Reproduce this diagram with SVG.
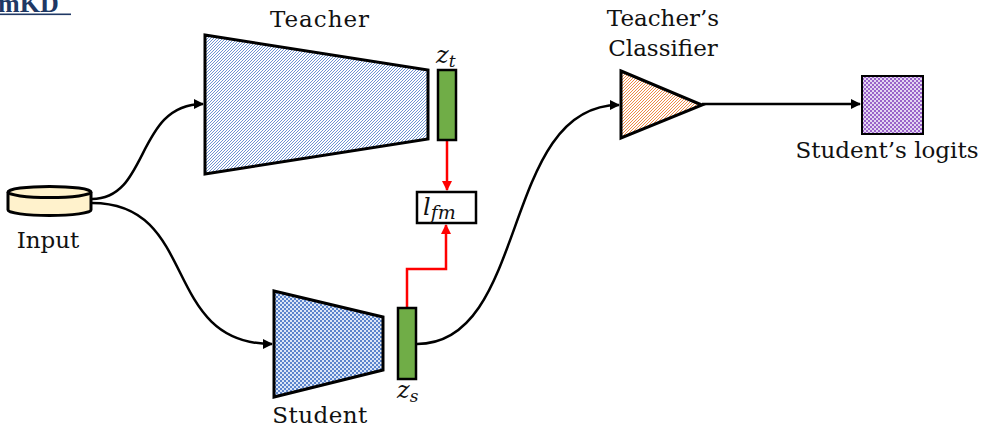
<svg xmlns="http://www.w3.org/2000/svg" width="986" height="431" viewBox="0 0 986 431">
<style>
.lbl{font-family:"DejaVu Serif","Liberation Serif",serif;font-size:23px;fill:#111}
.math{font-family:"DejaVu Serif","Liberation Serif",serif;font-style:italic;font-size:24px;fill:#111}
.sub{font-size:17px}
.blk{stroke:#000;stroke-width:3;stroke-linejoin:miter}
.conn{fill:none;stroke:#000;stroke-width:2.5}
.red{fill:none;stroke:#FF0000;stroke-width:2.5}
</style>
<defs>
<pattern id="hatchBlue" width="3" height="3" patternUnits="userSpaceOnUse">
<rect width="3" height="3" fill="#fff"/>
<path d="M-1,1 l2,-2 M0,3 l3,-3 M2,4 l2,-2" stroke="#4A78C8" stroke-width="0.8"/>
</pattern>
<pattern id="hatchOrange" width="3" height="3" patternUnits="userSpaceOnUse">
<rect width="3" height="3" fill="#fff"/>
<path d="M-1,1 l2,-2 M0,3 l3,-3 M2,4 l2,-2" stroke="#ED7D31" stroke-width="0.9"/>
</pattern>
<pattern id="checkBlue" width="4" height="4" patternUnits="userSpaceOnUse">
<rect width="4" height="4" fill="#DCE6F7"/>
<rect width="2" height="2" fill="#5B84CC"/>
<rect x="2" y="2" width="2" height="2" fill="#5B84CC"/>
</pattern>
<pattern id="checkPurple" width="4" height="4" patternUnits="userSpaceOnUse">
<rect width="4" height="4" fill="#E4D6F2"/>
<rect width="2" height="2" fill="#9A63C9"/>
<rect x="2" y="2" width="2" height="2" fill="#9A63C9"/>
</pattern>
<marker id="arrK" viewBox="0 0 10 10" refX="9" refY="5" markerWidth="4" markerHeight="4" orient="auto" markerUnits="strokeWidth">
<path d="M0,0 L10,5 L0,10 z" fill="#000"/>
</marker>
<marker id="arrR" viewBox="0 0 10 10" refX="9" refY="5" markerWidth="4" markerHeight="4" orient="auto" markerUnits="strokeWidth">
<path d="M0,0 L10,5 L0,10 z" fill="#FF0000"/>
</marker>
</defs>
<rect width="986" height="431" fill="#fff"/>

<g id="title">
<text x="-2" y="12" font-family="Liberation Serif,serif" font-weight="bold" font-size="26" fill="#1F3864">mKD</text>
<rect x="0" y="13.5" width="71" height="1.6" fill="#1F3864"/>
</g>

<g id="connectors">
<path class="conn" d="M92,199 C150,199 135,104 203,104" marker-end="url(#arrK)"/>
<path class="conn" d="M92,203 C200,203 160,344 272,344" marker-end="url(#arrK)"/>
<path class="conn" d="M417,344 C530,344 500,105 619,105" marker-end="url(#arrK)"/>
<path class="conn" d="M702,104 L860,104" marker-end="url(#arrK)"/>
<path class="red" d="M447,140 L447,190" marker-end="url(#arrR)"/>
<path class="red" d="M407,308 L407,269 L446,269 L446,225" marker-end="url(#arrR)"/>
</g>

<g id="input">
<path class="blk" fill="#FFF2CC" d="M8,192 L8,210 A41.5,5.5 0 0 0 91,210 L91,192"/>
<ellipse class="blk" cx="49.5" cy="192" rx="41.5" ry="5.5" fill="#FFF2CC"/>
<text class="lbl" x="48" y="248" text-anchor="middle">Input</text>
</g>

<g id="teacher">
<polygon class="blk" points="205,35 428,70 428,139 205,174" fill="url(#hatchBlue)"/>
<text class="lbl" x="320" y="27" text-anchor="middle" letter-spacing="1">Teacher</text>
</g>

<g id="zt">
<rect x="438" y="70" width="18" height="70" fill="#70AD47" stroke="#000" stroke-width="2.5"/>
<text class="math" x="436" y="63">z<tspan class="sub" dy="4">t</tspan></text>
</g>

<g id="lfm">
<rect x="417" y="192" width="59" height="31" fill="#fff" stroke="#000" stroke-width="2.5"/>
<text class="math" x="423" y="215" font-size="26">l<tspan font-size="19" dy="4">fm</tspan></text>
</g>

<g id="student">
<polygon class="blk" points="274,291 383,317 383,370 274,397" fill="url(#checkBlue)"/>
<text class="lbl" x="320" y="423" text-anchor="middle" letter-spacing="0.5">Student</text>
</g>

<g id="zs">
<rect x="398" y="308" width="18" height="71" fill="#70AD47" stroke="#000" stroke-width="2.5"/>
<text class="math" x="397" y="398">z<tspan class="sub" dy="4">s</tspan></text>
</g>

<g id="classifier">
<polygon class="blk" points="621,71 702,105 621,138" fill="url(#hatchOrange)"/>
<text class="lbl" x="663" y="26" text-anchor="middle">Teacher’s</text>
<text class="lbl" x="663" y="56" text-anchor="middle">Classifier</text>
</g>

<g id="logits">
<rect x="862" y="76" width="61" height="58" fill="url(#checkPurple)" stroke="#000" stroke-width="2"/>
<text class="lbl" x="887" y="158" text-anchor="middle">Student’s logits</text>
</g>
</svg>
